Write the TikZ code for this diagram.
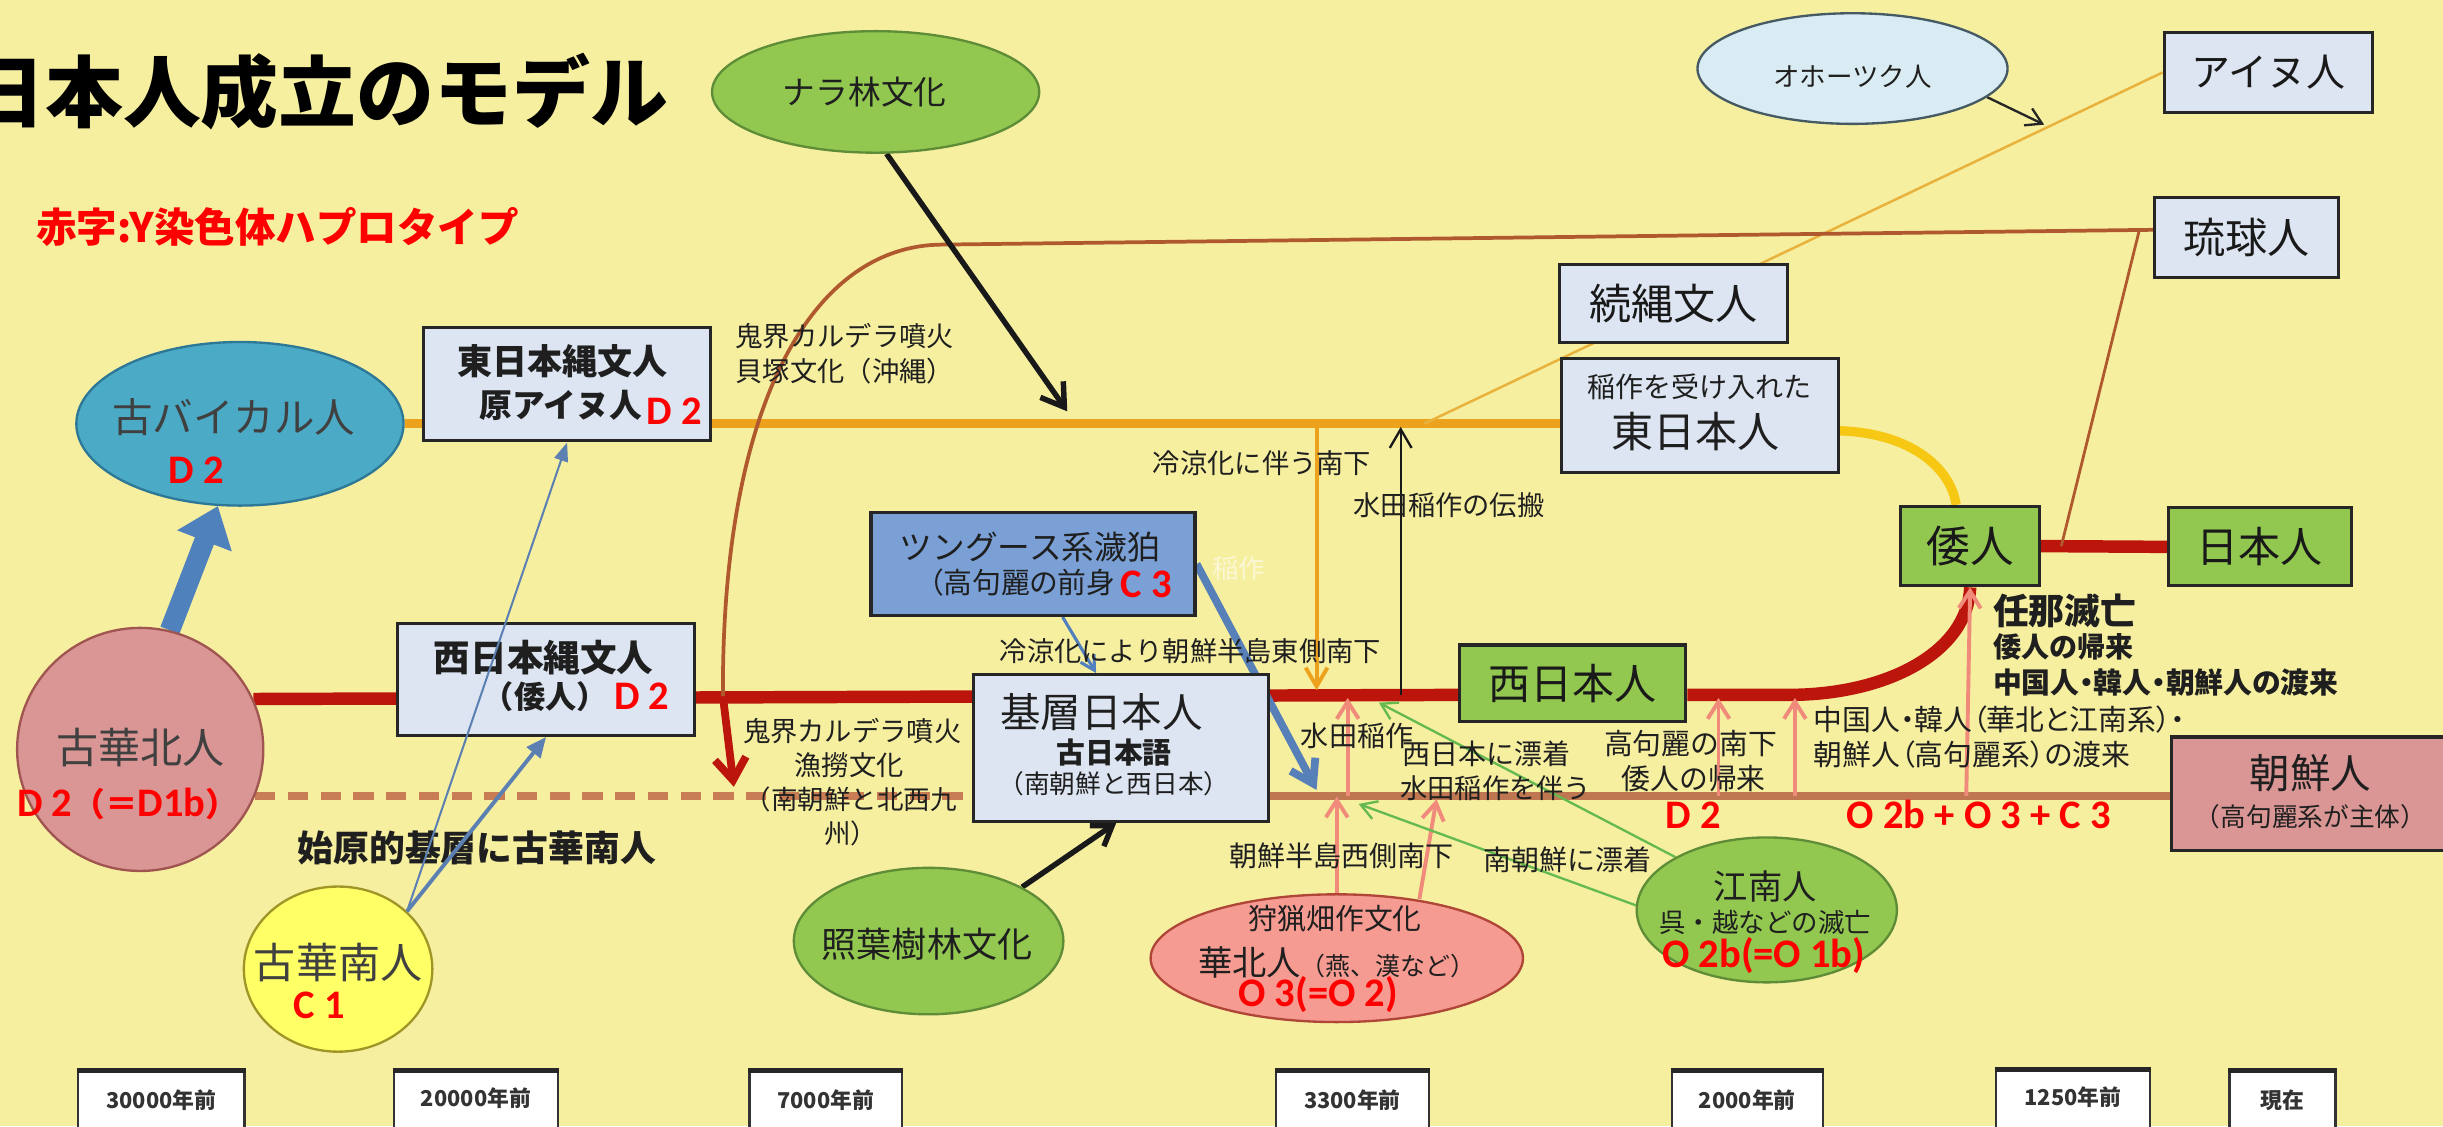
\documentclass[tikz,border=0pt]{standalone}
\usepackage{fontspec}
\setmainfont{Noto Sans CJK JP}
\newfontfamily\jpp[RawFeature=+palt]{Noto Sans CJK JP}
\newfontfamily\lat{Carlito}
\usetikzlibrary{arrows.meta,shapes.geometric}
\newcommand{\fsz}[1]{\fontsize{#1}{#1}\selectfont}
\definecolor{bgy}{RGB}{246,239,160}
\definecolor{boxlt}{RGB}{220,229,241}
\definecolor{grn}{RGB}{146,200,80}
\definecolor{grnd}{RGB}{95,140,55}
\definecolor{rose}{RGB}{217,150,148}
\definecolor{rosed}{RGB}{160,85,80}
\definecolor{baik}{RGB}{75,170,198}
\definecolor{baikd}{RGB}{45,120,150}
\definecolor{tung}{RGB}{122,160,214}
\definecolor{salm}{RGB}{245,155,145}
\definecolor{salmd}{RGB}{175,70,55}
\definecolor{yel}{RGB}{255,255,102}
\definecolor{yeld}{RGB}{160,150,40}
\definecolor{okh}{RGB}{218,236,243}
\definecolor{okhd}{RGB}{70,90,100}
\definecolor{orng}{RGB}{236,162,28}
\definecolor{orngl}{RGB}{232,178,60}
\definecolor{gld}{RGB}{246,200,20}
\definecolor{redc}{RGB}{188,22,12}
\definecolor{brn}{RGB}{176,88,46}
\definecolor{dsh}{RGB}{200,125,85}
\definecolor{pnk}{RGB}{240,138,122}
\definecolor{grl}{RGB}{100,185,80}
\definecolor{blu}{RGB}{82,128,190}
\definecolor{blud}{RGB}{79,129,189}
\pgfdeclarelayer{bgl}
\pgfdeclarelayer{lines}
\pgfdeclarelayer{front}
\pgfsetlayers{bgl,lines,main,front}
\begin{document}
\begin{tikzpicture}[x=1pt,y=-1pt,
  bx/.style={draw=black!85, line width=2pt, fill=boxlt, inner sep=0pt, rectangle, text=black!90},
  grbox/.style={bx, fill=grn},
  rosebox/.style={bx, fill=rose},
  ell/.style={ellipse, inner sep=0pt, line width=1.5pt},
  lbl/.style={inner sep=0pt, text=black!88},
  redlab/.style={inner sep=0pt, text=red, font=\lat\bfseries\fsz{26}},
  tbox/.style={draw=black!80, line width=1.5pt, fill=white, rectangle, minimum height=50pt, inner sep=0pt},
  tlab/.style={inner sep=0pt, text=black!80, font=\bfseries\fsz{14}},
  redln/.style={line width=8pt, draw=redc},
  pinkarr/.style={line width=2.5pt, draw=pnk, -{Straight Barb[length=11pt,width=14pt]}},
  grnarr/.style={line width=1.5pt, draw=grl, -{Straight Barb[length=10pt,width=12pt]}},
  thinbr/.style={line width=2.4pt, draw=brn}
]
\useasboundingbox (0,0) rectangle (1568,723);
\begin{pgfonlayer}{bgl}
\fill[bgy] (0,0) rectangle (1568,723);
\end{pgfonlayer}

% ---------- title ----------
\node[lbl, text=black, font=\bfseries\fsz{50}] (title) at (204,59) {日本人成立のモデル};
\node[lbl, anchor=west, text=red, font=\bfseries\fsz{26}] (legend) at (23,146) {赤字:Y染色体ハプロタイプ};

% ---------- ellipses ----------
\node[ell, draw=grnd, fill=grn, minimum width=210pt, minimum height=78pt] (nara) at (562,59) {};
\node[lbl, font=\fsz{21}] (naraT) at (555,59) {ナラ林文化};
\node[ell, draw=okhd, fill=okh, minimum width=199pt, minimum height=71pt] (okhotsk) at (1189,44) {};
\node[lbl, font=\fsz{17}] (okhotskT) at (1189,49) {オホーツク人};
\node[ell, draw=baikd, fill=baik, minimum width=210pt, minimum height=105pt] (baikal) at (154,272) {};
\node[lbl, text=black!75, font=\fsz{26}] (baikalT) at (150,268) {古バイカル人};
\node[redlab] (baikalR) at (126,302) {D 2};
\node[ell, draw=rosed, fill=rose, minimum width=158pt, minimum height=156pt] (kohokujin) at (90,481) {};
\node[lbl, text=black!75, font=\fsz{27}] (kohokujinT) at (90,480) {古華北人};
\node[redlab] (kohokujinR) at (82,516) {D 2{\rmfamily\bfseries\fsz{21}（＝}D1b{\rmfamily\bfseries\fsz{21}）}};
\node[ell, draw=yeld, fill=yel, minimum width=121pt, minimum height=106pt] (kokanan) at (217,622) {};
\node[lbl, text=black!75, font=\fsz{27}] (kokananT) at (217,618) {古華南人};
\node[redlab] (kokananR) at (205,645) {C 1};
\node[ell, draw=grnd, fill=grn, minimum width=173pt, minimum height=94pt] (shoyo) at (596,604) {};
\node[lbl, font=\fsz{22.5}] (shoyoT) at (595,606) {照葉樹林文化};
\node[ell, draw=salmd, fill=salm, minimum width=239pt, minimum height=82pt] (kahoku) at (858,615) {};
\node[lbl, font=\fsz{18.5}] (kahokuT1) at (857,590) {狩猟畑作文化};
\node[lbl, font=\fsz{22}] (kahokuT2) at (858,618) {華北人{\fsz{16}（燕、漢など）}};
\node[redlab] (kahokuR) at (846,638) {O 3(=O 2)};
\node[ell, draw=grnd, fill=grn, minimum width=167pt, minimum height=93pt] (konan) at (1134,584) {};
\node[lbl, font=\fsz{22}] (konanT1) at (1133,569) {江南人};
\node[lbl, font=\fsz{17}] (konanT2) at (1133,592) {呉・越などの滅亡};
\node[redlab] (konanR) at (1132,613) {O 2b(=O 1b)};

% ---------- boxes ----------
\node[bx, minimum width=134pt, minimum height=51pt, font=\fsz{25}] (ainu) at (1456,46.5) {アイヌ人};
\node[bx, minimum width=118pt, minimum height=51pt, font=\fsz{27}] (ryukyu) at (1442,152.5) {琉球人};
\node[bx, minimum width=146pt, minimum height=50pt, font=\fsz{27}] (zoku) at (1074,195) {続縄文人};
\node[bx, minimum width=178pt, minimum height=73pt] (higashi) at (1091,266.5) {};
\node[lbl, font=\fsz{18}] (higashiT1) at (1091,248) {稲作を受け入れた};
\node[lbl, font=\fsz{27}] (higashiT2) at (1088,277) {東日本人};
\node[grbox, minimum width=89pt, minimum height=51pt, font=\fsz{28}] (wajin) at (1264.5,350.5) {倭人};
\node[grbox, minimum width=117pt, minimum height=50pt, font=\fsz{27}] (nihonjin) at (1450.5,351) {日本人};
\node[grbox, minimum width=145pt, minimum height=49pt, font=\fsz{27}] (nishi) at (1009.5,438.5) {西日本人};
\node[rosebox, minimum width=181pt, minimum height=73pt] (chosen) at (1484.5,509.5) {};
\node[lbl, font=\fsz{26}] (chosenT1) at (1483,496) {朝鮮人};
\node[lbl, font=\fsz{16.5}] (chosenT2) at (1483,524) {（高句麗系が主体）};
\node[bx, minimum width=189pt, minimum height=94pt] (kiso) at (719.5,480) {};
\node[lbl, font=\fsz{26}] (kisoT1) at (707,457) {基層日本人};
\node[lbl, font=\bfseries\fsz{18.5}] (kisoT2) at (715,483) {古日本語};
\node[lbl, font=\fsz{16.5}] (kisoT3) at (715,503) {（南朝鮮と西日本）};
\node[bx, fill=tung, minimum width=208pt, minimum height=66pt] (tungus) at (663,362) {};
\node[lbl, font=\fsz{21}] (tungusT1) at (661,351) {ツングース系濊狛};
\node[lbl, anchor=west, font=\jpp\fsz{18.5}] (tungusT2) at (596,374) {（高句麗の前身};
\node[redlab, anchor=west] (tungusR) at (719,375) {C 3};
\node[bx, minimum width=184pt, minimum height=73pt] (ejomon) at (364,246.5) {};
\node[lbl, font=\bfseries\fsz{22.5}] (ejomonT1) at (361,232) {東日本縄文人};
\node[lbl, font=\bfseries\fsz{21}] (ejomonT2) at (360,260) {原アイヌ人};
\node[redlab, anchor=west] (ejomonR) at (415,264) {D 2};
\node[bx, minimum width=191pt, minimum height=72pt] (wjomon) at (350.5,436) {};
\node[lbl, font=\bfseries\fsz{23.5}] (wjomonT1) at (349,422) {西日本縄文人};
\node[lbl, font=\bfseries\fsz{20}] (wjomonT2) at (350,447) {（倭人）};
\node[redlab] (wjomonR) at (412,447) {D 2};

% ---------- free labels ----------
\node[lbl, anchor=west, font=\fsz{17.5}] (kikaiA1) at (472,216) {鬼界カルデラ噴火};
\node[lbl, anchor=west, font=\fsz{17.5}] (kikaiA2) at (472,238) {貝塚文化（沖縄）};
\node[lbl, font=\fsz{17.5}] (ryoryo1) at (810,297) {冷涼化に伴う南下};
\node[lbl, font=\fsz{17.5}] (suiden1) at (930,324) {水田稲作の伝搬};
\node[lbl, font=\fsz{17.5}] (ryoryo2) at (764,418) {冷涼化により朝鮮半島東側南下};
\node[lbl, text=white, opacity=0.55, font=\fsz{17}] (ghost) at (795,365) {稲作};
\node[lbl, font=\fsz{17.5}] (kikaiB1) at (547,469) {鬼界カルデラ噴火};
\node[lbl, font=\fsz{17.5}] (kikaiB2) at (545,491) {漁撈文化};
\node[lbl, font=\fsz{17}] (kikaiB3) at (546,513) {（南朝鮮と北西九};
\node[lbl, font=\fsz{17}] (kikaiB4) at (546,535) {州）};
\node[lbl, font=\bfseries\fsz{23}] (shigen) at (306,544) {始原的基層に古華南人};
\node[lbl, font=\fsz{18}] (suiden2) at (871,472) {水田稲作};
\node[lbl, font=\fsz{18}] (hyo1) at (954,484) {西日本に漂着};
\node[lbl, font=\fsz{17.5}] (hyo2) at (960,506) {水田稲作を伴う};
\node[lbl, font=\fsz{18}] (chosenW) at (861,549) {朝鮮半島西側南下};
\node[lbl, font=\fsz{18}] (minami) at (1006,552) {南朝鮮に漂着};
\node[lbl, font=\fsz{18.5}] (kokuri1) at (1085,477) {高句麗の南下};
\node[lbl, font=\fsz{18.5}] (kokuri2) at (1087,500) {倭人の帰来};
\node[lbl, anchor=west, font=\jpp\fsz{18.5}] (torai1) at (1164,462) {中国人・韓人（華北と江南系）・};
\node[lbl, anchor=west, font=\jpp\fsz{18.5}] (torai2) at (1164,484) {朝鮮人（高句麗系）の渡来};
\node[lbl, anchor=west, font=\bfseries\fsz{23}] (mimana1) at (1279,392) {任那滅亡};
\node[lbl, anchor=west, font=\bfseries\fsz{18}] (mimana2) at (1279,415) {倭人の帰来};
\node[lbl, anchor=west, font=\jpp\bfseries\fsz{18.5}] (mimana3) at (1279,438) {中国人・韓人・朝鮮人の渡来};
\node[redlab] (redD2) at (1087,523) {D 2};
\node[redlab] (redO) at (1270,523) {O 2b + O 3 + C 3};

% ---------- time boxes ----------
\node[tbox, minimum width=107pt] (t1) at (103.5,713) {};
\node[tbox, minimum width=105pt] (t2) at (305.5,713) {};
\node[tbox, minimum width=98pt] (t3) at (530,713) {};
\node[tbox, minimum width=98pt] (t4) at (868,713) {};
\node[tbox, minimum width=97pt] (t5) at (1121.5,713) {};
\node[tbox, minimum width=99pt] (t6) at (1330.5,712) {};
\node[tbox, minimum width=68pt] (t7) at (1465,713) {};
\foreach \t in {t1,t2,t3,t4,t5,t6,t7}{\draw[line width=3pt, black!85] (\t.north west) -- (\t.north east);}
\node[tlab] (t1L) at (103.5,706) {30000年前};
\node[tlab] (t2L) at (305.5,705) {20000年前};
\node[tlab] (t3L) at (530,706) {7000年前};
\node[tlab] (t4L) at (868,706) {3300年前};
\node[tlab] (t5L) at (1121.5,706) {2000年前};
\node[tlab] (t6L) at (1330.5,704) {1250年前};
\node[tlab] (t7L) at (1465,706) {現在};

% ---------- coordinates ----------
\coordinate (r1) at (937,446);
\coordinate (r2) at (1148,446);
\coordinate (ry1) at (604,157);
\coordinate (ry2) at (1373,148);
\coordinate (wn) at (1323,350.5);
\coordinate (kk1) at (464,447);
\coordinate (kkt) at (471,505);
\coordinate (od) at (914,272);
\coordinate (oa) at (1312,80);
\coordinate (narat) at (685,264);
\coordinate (ov1) at (845,272);
\coordinate (ov2) at (845,443);
\coordinate (bv1) at (899,446);
\coordinate (bv2) at (899,274);
\coordinate (bt) at (845,507);
\coordinate (p2a) at (865,511);
\coordinate (p2b) at (865,448);
\coordinate (p3a) at (911,577);
\coordinate (p3b) at (922,513);
\coordinate (p4a) at (1103,511);
\coordinate (p4b) at (1103,448);
\coordinate (p5a) at (1152,511);
\coordinate (p5b) at (1152,448);
\coordinate (p6a) at (1262,511);
\coordinate (g1) at (885,451);
\coordinate (g2) at (872,516);

% ---------- connectors ----------
\begin{pgfonlayer}{lines}
\draw[line width=6pt, draw=orng] (baikal.east) -- (higashi.west |- baikal.east);
\draw[line width=1.6pt, draw=orngl] (od) -- (ainu.west);
\draw[redln] (kohokujin.24) -- (r1);
\draw[redln] (nishi.east |- r1) -- (r2) .. controls (1212,446) and (1263,418) .. (wajin.south);
\draw[redln] (wajin.east) -- (nihonjin.west);
\draw[line width=5pt, draw=dsh, dash pattern=on 13pt off 8pt] (kohokujin.-22) -- (kiso.west |- kohokujin.-22);
\draw[line width=5pt, draw=dsh!95!black] (kiso.east |- kohokujin.-22) -- (chosen.west |- kohokujin.-22);
\draw[thinbr] ([yshift=5pt]ryukyu.west) -- (ry1) .. controls (520,158) and (463,262) .. (kk1);
\draw[thinbr, line width=1.8pt] (ry2) -- (wn);
\draw[line width=6pt, draw=gld] ([yshift=-10pt]higashi.east) .. controls (1226,278) and (1252,300) .. ([xshift=-9pt]wajin.north);
\draw[line width=5pt, draw=redc, -{Straight Barb[length=14pt,width=20pt]}] (kk1) -- (kkt);
\draw[line width=1.5pt, draw=black!85, -{Straight Barb[length=10pt,width=12pt]}] (okhotsk.-12) -- (oa);
\draw[line width=3.5pt, draw=black!90, -{Straight Barb[length=14pt,width=18pt]}] (nara.-80) -- (narat);
\draw[line width=2.5pt, draw=orng, -{Straight Barb[length=12pt,width=14pt]}] (ov1) -- (ov2);
\draw[line width=1.5pt, draw=black!90, -{Straight Barb[length=12pt,width=14pt]}] (bv1) -- (bv2);
\draw[line width=5pt, draw=blu!90!gray, -{Straight Barb[length=14pt,width=18pt]}] (tungus.east) -- (bt);
\draw[line width=2pt, draw=blu, -{Straight Barb[length=9pt,width=10pt]}] ([xshift=19pt]tungus.south) -- ([xshift=-16pt]kiso.north);
\draw[pinkarr] (kahoku.north) -- ++(0,-62);
\draw[pinkarr] (p2a) -- (p2b);
\draw[pinkarr] (p3a) -- (p3b);
\draw[pinkarr] (p4a) -- (p4b);
\draw[pinkarr] (p5a) -- (p5b);
\draw[pinkarr] (p6a) -- (wajin.south);
\draw[grnarr] (konan.150) -- (g1);
\draw[grnarr] (konan.178) -- (g2);
\draw[line width=3.5pt, draw=black!90, -{Straight Barb[length=12pt,width=16pt]}] (shoyo.30) -- ([xshift=-3pt]kiso.south);
\draw[line width=13pt, draw=blud, -{Triangle[length=24pt,width=36pt]}] (kohokujin.76) -- (baikal.-105);
\end{pgfonlayer}
\begin{pgfonlayer}{front}
\draw[line width=1.3pt, draw=blu!80!gray, -{Triangle[length=12pt,width=9pt]}] (kokanan.40) -- (ejomon.south);
\draw[line width=2.5pt, draw=blu!80!gray, -{Triangle[length=13pt,width=11pt]}] (kokanan.40) -- (wjomon.south);
\end{pgfonlayer}
\end{tikzpicture}
\end{document}
